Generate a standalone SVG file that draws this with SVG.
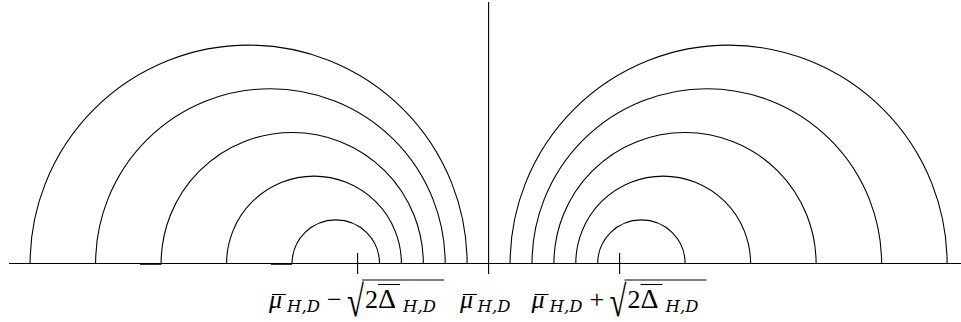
<svg xmlns="http://www.w3.org/2000/svg" width="961" height="322" viewBox="0 0 961 322">
<style>
.ln{fill:none;stroke:#000;stroke-width:1.1}
.m{font-family:"Liberation Serif","DejaVu Serif",serif;font-size:26px;fill:#000}
.i{font-style:italic}
.d{font-size:28px}
.s{font-family:"DejaVu Serif","Liberation Serif",serif;font-size:16.5px;font-style:italic;fill:#000}
.r{font-family:"Liberation Serif","DejaVu Serif",serif;font-size:44px;fill:#000}
</style>
<rect width="961" height="322" fill="#fff"/>
<g id="axes" class="ln">
<line x1="9" y1="263.5" x2="968" y2="263.5"/>
<line x1="488.6" y1="2" x2="488.6" y2="274"/>
<line x1="140" y1="264" x2="161.5" y2="264" stroke-width="1.6"/>
<line x1="271" y1="264" x2="292" y2="264" stroke-width="1.6"/>
</g>
<g id="ticks" class="ln">
<line x1="357.6" y1="253" x2="357.6" y2="274"/>
<line x1="619.6" y1="253" x2="619.6" y2="274"/>
</g>
<g id="arcs-left" class="ln">
<path d="M292.1 263.5A43.7 43.7 0 0 1 379.5 263.5"/>
<path d="M226.6 263.5A87.4 87.4 0 0 1 401.4 263.5"/>
<path d="M161.1 263.5A131.1 131.1 0 0 1 423.3 263.5"/>
<path d="M95.6 263.5A174.8 174.8 0 0 1 445.2 263.5"/>
<path d="M30.1 263.5A218.5 218.5 0 0 1 467.1 263.5"/>
</g>
<g id="arcs-right" class="ln">
<path d="M597.7 263.5A43.7 43.7 0 0 1 685.1 263.5"/>
<path d="M575.8 263.5A87.4 87.4 0 0 1 750.6 263.5"/>
<path d="M553.9 263.5A131.1 131.1 0 0 1 816.1 263.5"/>
<path d="M532 263.5A174.8 174.8 0 0 1 881.6 263.5"/>
<path d="M510.1 263.5A218.5 218.5 0 0 1 947.1 263.5"/>
</g>
<g id="label-left">
<text class="m i" x="269" y="307.5">μ</text>
<line class="ln" x1="272" y1="294.5" x2="286" y2="294.5"/>
<text class="s" x="287" y="311.5">H,D</text>
<text class="m" x="327" y="307.5">−</text>
<text class="r" transform="translate(347,316) scale(0.7,1)">√</text>
<line class="ln" x1="362" y1="280" x2="444" y2="280"/>
<text class="m" x="365" y="307.5">2</text>
<text class="m d" x="378" y="307.5">Δ</text>
<line class="ln" x1="378" y1="284.5" x2="400" y2="284.5"/>
<text class="s" x="403" y="311.5">H,D</text>
</g>
<g id="label-mid">
<text class="m i" x="460" y="307.5">μ</text>
<line class="ln" x1="463" y1="294.5" x2="477" y2="294.5"/>
<text class="s" x="477.5" y="311.5">H,D</text>
</g>
<g id="label-right">
<text class="m i" x="531.5" y="307.5">μ</text>
<line class="ln" x1="534.5" y1="294.5" x2="548.5" y2="294.5"/>
<text class="s" x="549.5" y="311.5">H,D</text>
<text class="m" x="589.5" y="307.5">+</text>
<text class="r" transform="translate(609.5,316) scale(0.7,1)">√</text>
<line class="ln" x1="624.5" y1="280" x2="706.5" y2="280"/>
<text class="m" x="627.5" y="307.5">2</text>
<text class="m d" x="640.5" y="307.5">Δ</text>
<line class="ln" x1="640.5" y1="284.5" x2="662.5" y2="284.5"/>
<text class="s" x="665.5" y="311.5">H,D</text>
</g>
</svg>
